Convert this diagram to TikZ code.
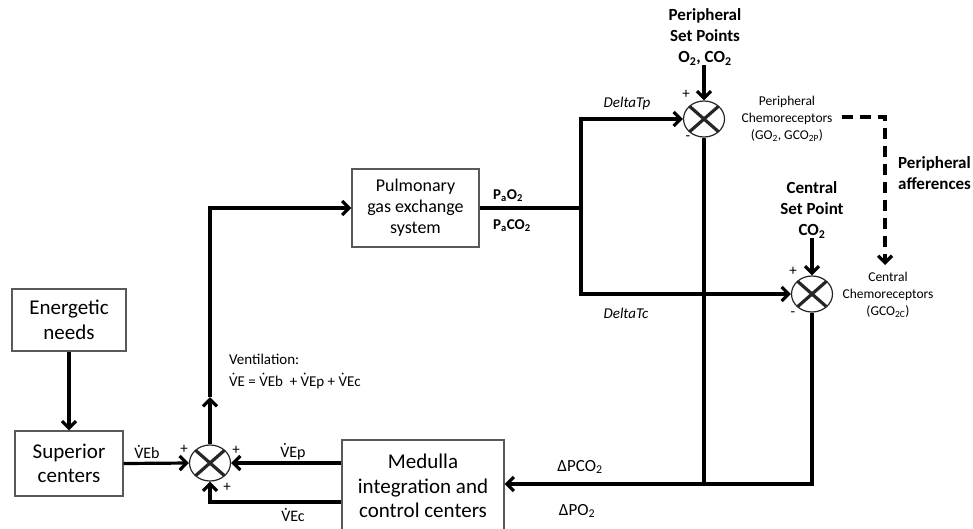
\documentclass[tikz,border=0pt]{standalone}
\usepackage{fontspec}
\setmainfont{Carlito}
\usetikzlibrary{arrows.meta,shapes.geometric,calc}
\newcommand\lo[1]{\textsubscript{#1}}
\newcommand\Vd{{\accent"02D9 V}}
\begin{document}
\begin{tikzpicture}[x=1pt,y=-1pt,
  every node/.style={inner sep=0pt},
  ln/.style={line width=3.2pt},
  arr/.style={ln,-{Straight Barb[length=7pt,width=14pt]}},
  blk/.style={draw=black!65,line width=1.1pt,fill=white,align=center,font=\fontsize{21}{24.5}\selectfont},
  sumj/.style={ellipse,draw=black!85,line width=1.2pt,minimum width=41pt,minimum height=36pt,
     path picture={\draw[line width=3.2pt] (path picture bounding box.north west)--(path picture bounding box.south east) (path picture bounding box.north east)--(path picture bounding box.south west);}},
  sgn/.style={font=\fontsize{15}{15}\selectfont},
  lbl/.style={font=\fontsize{16}{16}\selectfont},
  bld/.style={font=\bfseries\fontsize{17}{21}\selectfont,align=center},
  sml/.style={font=\fontsize{13.5}{17}\selectfont,align=center},
  ita/.style={font=\itshape\fontsize{15}{15}\selectfont},
]
\useasboundingbox (0,0) rectangle (973,528);
\clip (0,0) rectangle (973,528);

% blocks
\node[blk,minimum width=114pt,minimum height=62pt] (energ) at (69,320) {Energetic\\needs};
\node[blk,minimum width=108pt,minimum height=65pt] (sup) at (69,463.5) {Superior\\centers};
\node[sumj] (sum) at (210,463) {};
\node[blk,font=\fontsize{18}{21}\selectfont,minimum width=127pt,minimum height=78pt] (pulm) at (415.5,208) {Pulmonary\\gas exchange\\system};
\node[blk,minimum width=162pt,minimum height=92pt] (med) at (423,486) {Medulla\\integration and\\control centers};
\node[sumj] (psum) at (704,119) {};
\node[sumj] (csum) at (812,294) {};

% set points and receptors
\node[bld] (pset) at (705,37) {Peripheral\\Set Points\\O\lo{2}, CO\lo{2}};
\node[bld] (cset) at (812,210) {Central\\Set Point\\CO\lo{2}};
\node[sml] (pchemo) at (787,119) {Peripheral\\Chemoreceptors\\(GO\lo{2}, GCO\lo{2P})};
\node[sml] (cchemo) at (888,295) {Central\\Chemoreceptors\\(GCO\lo{2C})};
\node[bld,align=left,anchor=west] (paff) at (898,173) {Peripheral\\afferences};

% labels
\node[ita] (dtp) at (627,103) {DeltaTp};
\node[ita] (dtc) at (626,313) {DeltaTc};
\node[font=\bfseries\fontsize{15}{15}\selectfont,anchor=west] (pao) at (493,196) {P\lo{a}O\lo{2}};
\node[font=\bfseries\fontsize{15}{15}\selectfont,anchor=west] (paco) at (493,226) {P\lo{a}CO\lo{2}};
\node[font=\fontsize{17}{17}\selectfont] (dpco) at (580,467) {ΔPCO\lo{2}};
\node[font=\fontsize{17}{17}\selectfont] (dpo) at (577,511) {ΔPO\lo{2}};
\node[lbl] (veb) at (147,452) {\Vd Eb};
\node[lbl] (vep) at (293,452) {\Vd Ep};
\node[lbl] (vec) at (293,515) {\Vd Ec};
\node[font=\fontsize{15}{22}\selectfont,align=left,anchor=west] (vent) at (229,371) {Ventilation:\\\Vd E = \Vd Eb\ \ + \Vd Ep + \Vd Ec};

% signs
\node[sgn] (s1) at (184,449) {+};
\node[sgn] (s2) at (236,450) {+};
\node[sgn] (s3) at (227,487) {+};
\node[sgn] (s4) at (686,94) {+};
\node[sgn] (s5) at (688,138) {-};
\node[sgn] (s6) at (793,271) {+};
\node[sgn] (s7) at (793,314) {-};

% connectors
\draw[arr] (energ) -- (sup);
\draw[arr] (sup.east) -- (sum.west);
\coordinate (mid) at (210,397);
\coordinate (corner) at (210,208);
\draw[arr] (sum.north) -- (mid);
\draw[arr] (mid) -- (corner) -- (pulm.west);
\draw[arr] (med.west |- sum.east) -- (sum.east);
\coordinate (vecy) at (0,502);
\draw[arr] (med.west |- vecy) -| (sum.south);
\coordinate (br) at (581,208);
\draw[ln] (pulm.east) -- (br);
\draw[arr] (br) |- (psum.west);
\draw[arr] (br) |- (csum.west);
\draw[arr] (pset.south -| psum.north) -- (psum.north);
\draw[arr] (cset.south) -- (csum.north);
\coordinate (cj) at (812,484);
\draw[ln] (psum.south) -- (psum.south |- cj);
\draw[arr] (csum.south) -- (cj) -- (cj -| med.east);
\coordinate (dk) at (885,117);
\coordinate (dt) at (885,265);
\draw[ln,dash pattern=on 11pt off 7pt,-{Straight Barb[length=7pt,width=14pt]}] ([xshift=9pt]pchemo.east |- dk) -- (dk) -- (dt);
\end{tikzpicture}
\end{document}
